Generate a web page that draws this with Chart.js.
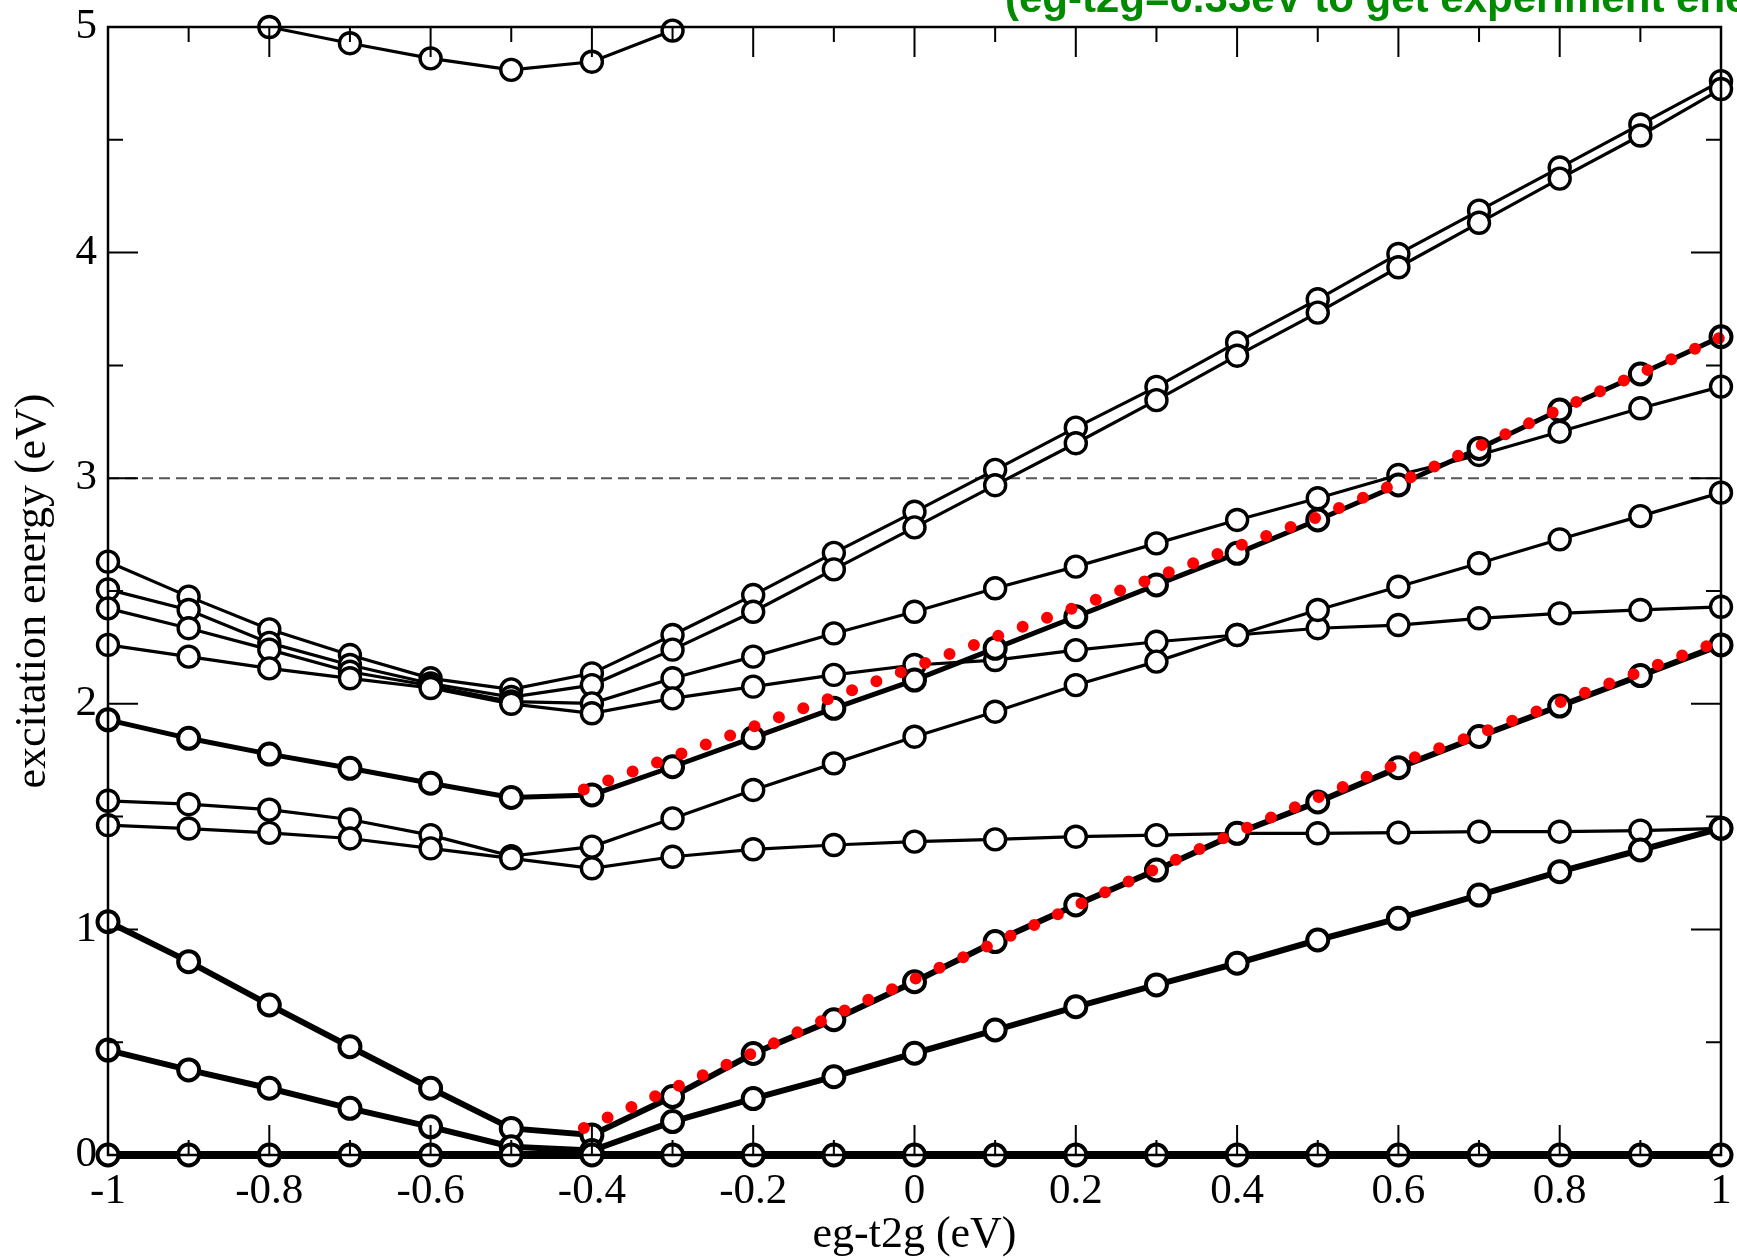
<!DOCTYPE html>
<html>
<head>
<meta charset="utf-8">
<script src="https://cdn.jsdelivr.net/npm/chart.js@4.4.1/dist/chart.umd.min.js"></script>
<style>
  html, body { margin: 0; padding: 0; background: #fff; }
  #wrap { width: 1737px; height: 1260px; }
</style>
</head>
<body>
<div id="wrap"><canvas id="chart" width="1737" height="1260"></canvas></div>
<script>
// eg-t2g splitting (eV), one point every 0.1
const xValues = [-1, -0.9, -0.8, -0.7, -0.6, -0.5, -0.4, -0.3, -0.2, -0.1, 0, 0.1, 0.2, 0.3, 0.4, 0.5, 0.6, 0.7, 0.8, 0.9, 1];
const xTicks = [-1, -0.8, -0.6, -0.4, -0.2, 0, 0.2, 0.4, 0.6, 0.8, 1];
const xMinorTicks = [-0.9, -0.7, -0.5, -0.3, -0.1, 0.1, 0.3, 0.5, 0.7, 0.9];
const yTicks = [0, 1, 2, 3, 4, 5];
const yMinorTicks = [0.5, 1.5, 2.5, 3.5, 4.5];

// excitation energies (eV)
const level0 = [0, 0, 0, 0, 0, 0, 0, 0, 0, 0, 0, 0, 0, 0, 0, 0, 0, 0, 0, 0, 0];
const level1 = [0.465, 0.377, 0.296, 0.207, 0.125, 0.037, 0.02, 0.148, 0.25, 0.347, 0.451, 0.554, 0.657, 0.754, 0.85, 0.953, 1.049, 1.152, 1.256, 1.352, 1.448];
const level2 = [1.034, 0.857, 0.665, 0.48, 0.296, 0.118, 0.089, 0.259, 0.45, 0.6, 0.768, 0.946, 1.108, 1.263, 1.426, 1.565, 1.717, 1.855, 1.99, 2.125, 2.261];
const level3 = [1.462, 1.447, 1.428, 1.403, 1.359, 1.315, 1.271, 1.322, 1.355, 1.374, 1.389, 1.399, 1.411, 1.418, 1.426, 1.426, 1.429, 1.433, 1.433, 1.438, 1.448];
const level4 = [1.57, 1.555, 1.531, 1.487, 1.418, 1.325, 1.367, 1.492, 1.618, 1.736, 1.854, 1.965, 2.083, 2.187, 2.305, 2.416, 2.519, 2.623, 2.729, 2.832, 2.936];
const level5 = [1.929, 1.847, 1.777, 1.714, 1.648, 1.585, 1.596, 1.721, 1.85, 1.98, 2.105, 2.246, 2.386, 2.527, 2.667, 2.815, 2.97, 3.132, 3.302, 3.462, 3.627];
const level6 = [2.261, 2.209, 2.157, 2.113, 2.07, 2.0, 1.958, 2.024, 2.076, 2.128, 2.172, 2.194, 2.238, 2.275, 2.305, 2.335, 2.349, 2.379, 2.401, 2.416, 2.43];
const level7 = [2.423, 2.335, 2.24, 2.142, 2.08, 2.01, 2.002, 2.113, 2.209, 2.312, 2.408, 2.512, 2.608, 2.711, 2.815, 2.911, 3.014, 3.103, 3.206, 3.31, 3.406];
const level8 = [2.507, 2.416, 2.27, 2.172, 2.09, 2.03, 2.083, 2.24, 2.408, 2.596, 2.782, 2.969, 3.155, 3.346, 3.543, 3.734, 3.935, 4.132, 4.328, 4.519, 4.725];
const level9 = [2.63, 2.475, 2.33, 2.216, 2.113, 2.064, 2.135, 2.305, 2.482, 2.669, 2.851, 3.037, 3.224, 3.405, 3.602, 3.793, 3.994, 4.186, 4.377, 4.568, 4.76];
const level10 = [null, null, 5.0, 4.928, 4.861, 4.81, 4.846, 4.984, null, null, null, null, null, null, null, null, null, null, null, null, null];

// red dotted guide curves
const guideX = [-0.41, -0.3, -0.2, -0.1, 0, 0.1, 0.2, 0.3, 0.4, 0.5, 0.6, 0.7, 0.8, 0.9, 1];
const guideUpper = [1.62, 1.765, 1.898, 2.03, 2.163, 2.296, 2.428, 2.562, 2.697, 2.828, 2.98, 3.142, 3.305, 3.466, 3.625];
const guideLower = [0.12, 0.294, 0.452, 0.619, 0.78, 0.94, 1.104, 1.27, 1.431, 1.585, 1.736, 1.868, 2.006, 2.143, 2.28];
const thresholdY = 3;

const noteText = '(eg-t2g=0.33eV to get experiment energy)';

function levelSet(values, width) {
    return {
        data: xValues.map((x, i) => ({ x: x, y: values[i] })),
        borderColor: '#000',
        borderWidth: width,
        pointRadius: 10.5,
        pointBorderWidth: width > 3.5 ? 4 : 3.4,
        pointBackgroundColor: '#fff',
        pointBorderColor: '#000',
        clip: false,
        order: 2
    };
}

function guideSet(values) {
    return {
        data: guideX.map((x, i) => ({ x: x, y: values[i] })),
        borderColor: '#ff0000',
        borderWidth: 12,
        borderDash: [0, 26],
        borderCapStyle: 'round',
        pointRadius: 0,
        clip: false,
        order: 0
    };
}

const datasets = [
    guideSet(guideUpper),
    guideSet(guideLower),
    {
        data: [{ x: xTicks[0], y: thresholdY }, { x: xTicks[xTicks.length - 1], y: thresholdY }],
        borderColor: '#555',
        borderWidth: 2,
        borderDash: [11, 6],
        pointRadius: 0,
        order: 5
    },
    levelSet(level0, 8),
    levelSet(level1, 6),
    levelSet(level2, 6),
    levelSet(level3, 3.2),
    levelSet(level4, 3.2),
    levelSet(level5, 5),
    levelSet(level6, 3.2),
    levelSet(level7, 3.2),
    levelSet(level8, 3.2),
    levelSet(level9, 3.2),
    levelSet(level10, 3.2)
];

// frame with inward ticks on all four sides, plus the clipped note at the top
const graceFrame = {
    id: 'graceFrame',
    afterDatasetsDraw(chart) {
        const ctx = chart.ctx;
        const a = chart.chartArea;
        const xs = chart.scales.x, ys = chart.scales.y;
        ctx.save();
        ctx.strokeStyle = '#000';
        ctx.lineWidth = 2;
        const tickX = (vals, len) => vals.forEach(v => {
            const px = xs.getPixelForValue(v);
            ctx.beginPath();
            ctx.moveTo(px, a.bottom); ctx.lineTo(px, a.bottom - len);
            ctx.moveTo(px, a.top); ctx.lineTo(px, a.top + len);
            ctx.stroke();
        });
        const tickY = (vals, len) => vals.forEach(v => {
            const py = ys.getPixelForValue(v);
            ctx.beginPath();
            ctx.moveTo(a.left, py); ctx.lineTo(a.left + len, py);
            ctx.moveTo(a.right, py); ctx.lineTo(a.right - len, py);
            ctx.stroke();
        });
        tickX(xTicks, 30); tickX(xMinorTicks, 15);
        tickY(yTicks, 30); tickY(yMinorTicks, 15);
        ctx.lineWidth = 2.5;
        ctx.strokeRect(a.left, a.top, a.right - a.left, a.bottom - a.top);

        ctx.fillStyle = '#008a00';
        ctx.font = 'bold 42px "Liberation Sans", Arial, sans-serif';
        ctx.textBaseline = 'alphabetic';
        ctx.textAlign = 'left';
        ctx.fillText(noteText, 1005, 12);
        ctx.restore();
    }
};

const tickFont = { family: '"Liberation Serif", "Times New Roman", serif', size: 43 };
const titleFont = { family: '"Liberation Serif", "Times New Roman", serif', size: 44, lineHeight: 1.1 };

new Chart(document.getElementById('chart'), {
    type: 'line',
    data: { datasets: datasets },
    options: {
        responsive: false,
        animation: false,
        layout: { padding: { top: 27, right: 16, bottom: 0, left: 0 } },
        elements: { line: { tension: 0 } },
        plugins: { legend: { display: false }, tooltip: { enabled: false } },
        scales: {
            x: {
                type: 'linear',
                min: -1,
                max: 1,
                grid: { display: false, drawTicks: false },
                border: { display: false },
                afterBuildTicks: s => { s.ticks = xTicks.map(v => ({ value: v })); },
                afterFit: s => { s.height = 105; s.paddingLeft = 0; s.paddingRight = 0; },
                ticks: { color: '#000', font: tickFont, padding: 11, maxRotation: 0, autoSkip: false, callback: v => String(v) },
                title: { display: true, text: 'eg-t2g (eV)', color: '#000', font: titleFont, padding: { top: 0, bottom: 0 } }
            },
            y: {
                type: 'linear',
                min: 0,
                max: 5,
                grid: { display: false, drawTicks: false },
                border: { display: false },
                afterBuildTicks: s => { s.ticks = yTicks.map(v => ({ value: v })); },
                afterFit: s => { s.width = 108; s.paddingTop = 0; s.paddingBottom = 0; },
                ticks: { color: '#000', font: tickFont, padding: 11, autoSkip: false, callback: v => String(v) },
                title: { display: true, text: 'excitation energy (eV)', color: '#000', font: titleFont, padding: { top: 9, bottom: 0 } }
            }
        }
    },
    plugins: [graceFrame]
});
</script>
</body>
</html>
